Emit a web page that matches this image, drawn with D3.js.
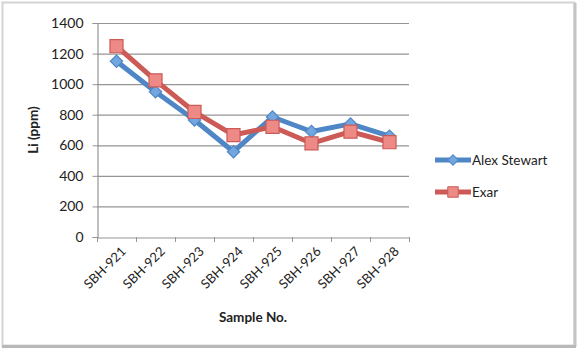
<!DOCTYPE html>
<html><head><meta charset="utf-8">
<script src="https://cdn.jsdelivr.net/npm/d3@7"></script>
<style>body{margin:0;background:#fff}svg{display:block}text{font-family:Lato,"Open Sans",sans-serif}</style>
</head><body><svg id="c" width="580" height="349"></svg>
<script>
const categories=["SBH-921","SBH-922","SBH-923","SBH-924","SBH-925","SBH-926","SBH-927","SBH-928"];
const alexStewart=[1150,950,765,558,785,690,740,660];
const exar=[1248,1025,818,667,721,613,689,620];
const yTicks=[0,200,400,600,800,1000,1200,1400];
const seriesNames=["Alex Stewart","Exar"];

const svg=d3.select("#c");
// frame
svg.append("rect").attr("x",2.5).attr("y",2.5).attr("width",572).attr("height",343).attr("fill","#fff").attr("stroke","#d4d4d4").attr("stroke-width",2);
svg.append("line").attr("x1",575).attr("x2",575).attr("y1",3).attr("y2",347).attr("stroke","#c4c4c4").attr("stroke-width",3);
svg.append("line").attr("x1",2).attr("x2",576).attr("y1",346.5).attr("y2",346.5).attr("stroke","#b8b8b8").attr("stroke-width",3);

const L=97,R=409,T=23,B=237;
const x=d3.scaleBand().domain(categories).range([L,R]);
const y=d3.scaleLinear().domain([0,1400]).range([B,T]);

// gridlines
svg.append("g").selectAll("line").data(yTicks.filter(d=>d>0)).join("line")
 .attr("x1",L).attr("x2",R).attr("y1",d=>y(d)+0.5).attr("y2",d=>y(d)+0.5).attr("stroke","#959595").attr("stroke-width",1.2);

// y axis
const ya=svg.append("g").attr("transform",`translate(${L+0.5},0)`).call(d3.axisLeft(y).tickValues(yTicks).tickFormat(d3.format("d")).tickSize(5).tickPadding(9));
ya.select(".domain").attr("stroke","#959595").attr("stroke-width",1.2);
ya.selectAll(".tick line").attr("stroke","#959595");
ya.selectAll(".tick text").attr("font-size","14px").attr("fill","#222").attr("font-family","Lato");

// x axis
const xa=svg.append("g").attr("transform",`translate(0,${B+0.5})`).call(d3.axisBottom(x).tickSize(0).tickFormat(""));
xa.select(".domain").attr("stroke","#959595").attr("stroke-width",1.2);
const bounds=categories.map(c=>x(c)).concat([R]);
svg.append("g").selectAll("line").data(bounds).join("line")
 .attr("x1",d=>d+0.5).attr("x2",d=>d+0.5).attr("y1",B).attr("y2",B+5).attr("stroke","#959595");
svg.append("g").selectAll("text").data(categories).join("text")
 .attr("transform",c=>`translate(${x(c)+x.bandwidth()/2+7},${B+12}) rotate(-45)`)
 .attr("text-anchor","end").attr("dy","0.35em").attr("font-size","13px").attr("fill","#222").text(c=>c);

// axis titles
svg.append("text").attr("transform","translate(38,130) rotate(-90)").attr("text-anchor","middle")
 .attr("font-size","13.5px").attr("font-weight","bold").attr("fill","#222").text("Li (ppm)");
svg.append("text").attr("x",253).attr("y",322).attr("text-anchor","middle")
 .attr("font-size","13.5px").attr("font-weight","bold").attr("fill","#222").text("Sample No.");

const cx=c=>x(c)+x.bandwidth()/2;
const line=d3.line().x((d,i)=>cx(categories[i])).y(d=>y(d));
const blue="#4f86c6", blueFill="#72a6df", red="#cc5a57", redFill="#ee8a86";

function drawSeries(vals,stroke,fill,shape,size,rot){
 svg.append("path").datum(vals).attr("d",line).attr("fill","none").attr("stroke",stroke).attr("stroke-width",5).attr("stroke-linejoin","round");
 svg.append("g").selectAll("path").data(vals).join("path")
  .attr("transform",(d,i)=>`translate(${cx(categories[i])},${y(d)}) rotate(${rot})`)
  .attr("d",d3.symbol().type(shape).size(size)).attr("fill",fill).attr("stroke",stroke).attr("stroke-width",1.2);
}
drawSeries(alexStewart,blue,blueFill,d3.symbolSquare,75,45);
drawSeries(exar,red,redFill,d3.symbolSquare,170,0);

// legend
const lg=svg.append("g");
[[seriesNames[0],blue,blueFill,55,45,160],[seriesNames[1],red,redFill,110,0,192]].forEach(([n,s,f,sz,rot,yy])=>{
 lg.append("line").attr("x1",435).attr("x2",471).attr("y1",yy).attr("y2",yy).attr("stroke",s).attr("stroke-width",5);
 lg.append("path").attr("transform",`translate(453,${yy}) rotate(${rot})`).attr("d",d3.symbol().type(d3.symbolSquare).size(sz)).attr("fill",f).attr("stroke",s);
 lg.append("text").attr("x",472).attr("y",yy).attr("dy","0.35em").attr("font-size","13.5px").attr("fill","#222").text(n);
});
</script></body></html>
